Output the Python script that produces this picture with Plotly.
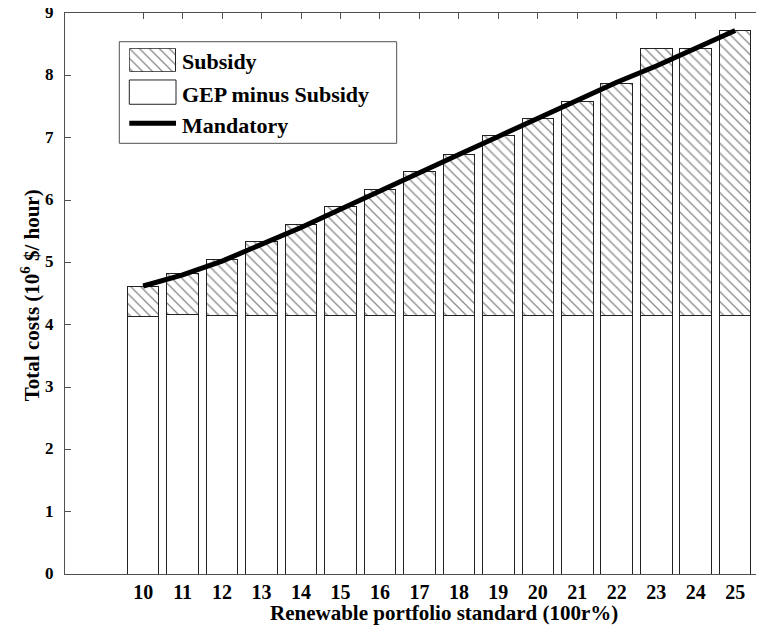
import plotly.graph_objects as go

# Data
rps = list(range(10, 26))  # Renewable portfolio standard (100r%)
gep_minus_subsidy = [4.13, 4.17, 4.15, 4.15, 4.15, 4.15, 4.15, 4.15,
                     4.15, 4.15, 4.15, 4.15, 4.15, 4.15, 4.15, 4.15]
subsidy = [0.48, 0.65, 0.90, 1.18, 1.46, 1.74, 2.02, 2.30,
           2.58, 2.88, 3.15, 3.43, 3.72, 4.28, 4.28, 4.57]
mandatory = [4.62, 4.80, 5.02, 5.28, 5.56, 5.85, 6.15, 6.45,
             6.73, 7.02, 7.31, 7.60, 7.89, 8.15, 8.43, 8.72]
tick_labels = [str(v) for v in rps]
legend_names = ["Subsidy", "GEP minus Subsidy", "Mandatory"]

FONT = "Liberation Serif, Times New Roman, serif"
AXC = "#505050"
HATCH = dict(shape="\\", fgcolor="#111", bgcolor="white", size=7, solidity=0.18)

fig = go.Figure()
fig.add_trace(go.Bar(
    x=rps, y=gep_minus_subsidy, name=legend_names[1], showlegend=False,
    marker=dict(color="white", line=dict(color="#222", width=1)),
    width=0.8,
))
fig.add_trace(go.Bar(
    x=rps, y=subsidy, name=legend_names[0], showlegend=False,
    marker=dict(color="white", line=dict(color="#222", width=1), pattern=HATCH),
    width=0.8,
))
fig.add_trace(go.Scatter(
    x=rps, y=mandatory, name=legend_names[2], showlegend=False, mode="lines",
    line=dict(color="black", width=5),
))

# --- hand-built legend (large swatches like the reference) ---
LX0, LX1 = 0.092, 0.1588
fig.add_trace(go.Bar(
    x=[0], y=[1], width=1, xaxis="x2", yaxis="y2", showlegend=False,
    hoverinfo="skip",
    marker=dict(color="white", line=dict(color="#222", width=1), pattern=HATCH),
))

shapes = [
    dict(type="rect", xref="paper", yref="paper", x0=0.0777, x1=0.4745,
         y0=0.7677, y1=0.9488, line=dict(color=AXC, width=1), fillcolor="rgba(0,0,0,0)"),
    dict(type="rect", xref="paper", yref="paper", x0=LX0, x1=LX1,
         y0=0.8373, y1=0.8806, line=dict(color="#222", width=1), fillcolor="rgba(0,0,0,0)"),
    dict(type="line", xref="paper", yref="paper", x0=LX0, x1=LX1,
         y0=0.8034, y1=0.8034, line=dict(color="black", width=5)),
]

leg_font = dict(family=FONT, size=22, color="black", weight="bold")
annotations = [
    dict(text=legend_names[0], xref="paper", yref="paper", x=0.165, y=0.9127,
         xanchor="left", yanchor="middle", showarrow=False, font=leg_font),
    dict(text=legend_names[1], xref="paper", yref="paper", x=0.165, y=0.855,
         xanchor="left", yanchor="middle", showarrow=False, font=leg_font),
    dict(text=legend_names[2], xref="paper", yref="paper", x=0.165, y=0.7986,
         xanchor="left", yanchor="middle", showarrow=False, font=leg_font),
    dict(text="Renewable portfolio standard (100r%)", xref="paper", yref="paper",
         x=0.542, y=-0.07, xanchor="center", yanchor="middle", showarrow=False,
         font=dict(family=FONT, size=21, color="black", weight="bold")),
    dict(text="Total costs (10<sup>6</sup> $/ hour)", xref="paper", yref="paper",
         x=-0.05, y=0.497, xanchor="center", yanchor="middle", textangle=-90,
         showarrow=False,
         font=dict(family=FONT, size=21, color="black", weight="bold")),
]

# the page body adds an 8px margin, so the figure is 8px smaller than the window
fig.update_layout(
    width=756, height=618,
    margin=dict(l=57, r=0, t=5, b=52, autoexpand=False),
    barmode="stack",
    plot_bgcolor="white", paper_bgcolor="white",
    font=dict(family=FONT, size=18, color="black", weight="bold"),
    showlegend=False,
    xaxis=dict(
        range=[8.02, 25.73], tickmode="array", tickvals=rps, ticktext=tick_labels,
        ticks="inside", ticklen=6, tickcolor=AXC, showgrid=False, zeroline=False,
        showline=True, linecolor=AXC, linewidth=1, mirror="ticks",
        layer="below traces", ticklabeloverflow="allow", automargin=False,
        tickfont=dict(family=FONT, size=20, color="black", weight="bold"),
    ),
    yaxis=dict(
        range=[0, 9], dtick=1, ticks="inside", ticklen=6, tickcolor=AXC,
        showgrid=False, zeroline=False, showline=True, linecolor=AXC, linewidth=1,
        mirror=False, ticklabelstandoff=7, ticklabeloverflow="allow", automargin=False,
        ticklabelshift=-1,
        tickfont=dict(family=FONT, size=17, color="black", weight="bold"),
    ),
    xaxis2=dict(domain=[LX0, LX1], anchor="y2", range=[-0.5, 0.5], visible=False,
                fixedrange=True, automargin=False),
    yaxis2=dict(domain=[0.8954, 0.9371], anchor="x2", range=[0, 1], visible=False,
                fixedrange=True, automargin=False),
    shapes=shapes,
    annotations=annotations,
)

fig.write_html("out.html")
